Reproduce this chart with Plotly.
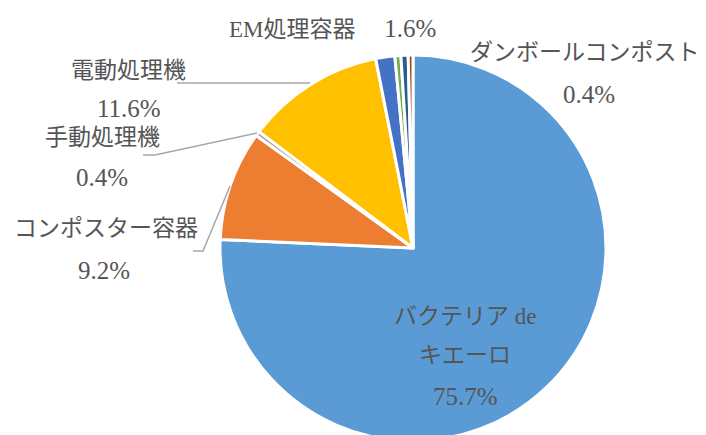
import plotly.graph_objects as go

# Data
labels = ["バクテリア de キエーロ", "コンポスター容器", "手動処理機", "電動処理機",
          "EM処理容器", "その他A", "その他B", "ダンボールコンポスト"]
values = [75.7, 9.2, 0.4, 11.6, 1.6, 0.5, 0.6, 0.4]
pct_text = ["75.7%", "9.2%", "0.4%", "11.6%", "1.6%", "", "", "0.4%"]
colors = ["#5B9BD5", "#ED7D31", "#A5A5A5", "#FFC000", "#4472C4", "#70AD47", "#255E91", "#9E480E"]

W, H = 706, 441
FONT = "Liberation Serif, Noto Sans CJK JP, serif"
TXT = "#555555"
LINE = "#A6A6A6"

def px(x, y):
    return x / W, 1 - y / H

fig = go.Figure(go.Pie(
    labels=labels, values=values, sort=False, direction="clockwise", rotation=0,
    marker=dict(colors=colors, line=dict(color="white", width=3)),
    textinfo="none", hoverinfo="label+percent", showlegend=False,
    domain=dict(x=[120 / W, 1], y=[0, 386 / H]),
))

annots = []
def add(text, x, y, size=23):
    ax, ay = px(x, y)
    annots.append(dict(text=text, x=ax, y=ay, xref="paper", yref="paper",
                       xanchor="center", yanchor="middle", showarrow=False,
                       font=dict(family=FONT, size=size, color=TXT)))

P = 25  # percent font size
add(labels[4] + "　 " + f"<span style='font-size:{P}px'>{pct_text[4]}</span>", 332, 28)
add(labels[7], 585, 53)
add(pct_text[7], 589, 95, P)
add(labels[3], 128, 70)
add(pct_text[3], 129, 108, P)
add(labels[2], 102, 137)
add(pct_text[2], 102, 177, P)
add(labels[1], 106, 229)
add(pct_text[1], 104, 270, P)
add("バクテリア de", 465, 316)
add("キエーロ", 465, 355)
add(pct_text[0], 465, 396, P)

def path(points):
    d = ""
    for i, (x, y) in enumerate(points):
        a, b = px(x, y)
        d += ("M" if i == 0 else "L") + f"{a},{b} "
    return d

shapes = []
for pts in [[(177, 83), (310, 83)],
            [(143, 155), (155, 155), (257, 133)],
            [(193, 251), (203, 251), (230, 186)]]:
    shapes.append(dict(type="path", path=path(pts), xref="paper", yref="paper",
                       line=dict(color=LINE, width=1.5)))

fig.update_layout(width=W, height=H, margin=dict(l=0, r=0, t=0, b=0),
                  paper_bgcolor="white", plot_bgcolor="white",
                  annotations=annots, shapes=shapes)

fig.write_html("out.html", config={"displayModeBar": False},
               post_script="document.body.style.margin='0';document.body.style.overflow='hidden';document.documentElement.style.overflow='hidden';")
